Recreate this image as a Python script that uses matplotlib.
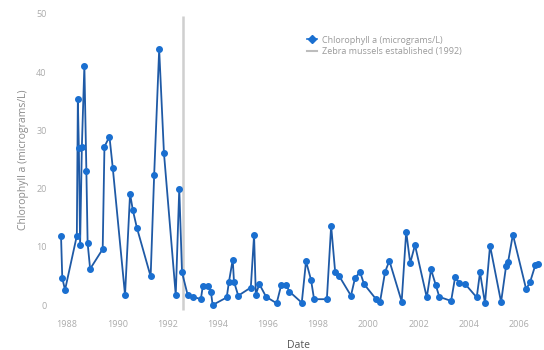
import matplotlib
matplotlib.use("Agg")
import matplotlib.pyplot as plt
from matplotlib.lines import Line2D

plt.rcParams['font.family'] = ['Open Sans', 'DejaVu Sans']

# decimal-year dates and chlorophyll a values (micrograms/L)
dates = [1987.76, 1987.81, 1987.92, 1988.39, 1988.43, 1988.47, 1988.52, 1988.59,
         1988.69, 1988.77, 1988.82, 1988.92, 1989.42, 1989.49, 1989.69, 1989.82,
         1990.31, 1990.51, 1990.62, 1990.78, 1991.33, 1991.47, 1991.67, 1991.86,
         1992.33, 1992.47, 1992.58, 1992.80, 1993.03, 1993.33, 1993.41, 1993.63,
         1993.73, 1993.80, 1994.36, 1994.45, 1994.60, 1994.65, 1994.82, 1995.32,
         1995.45, 1995.52, 1995.66, 1995.93, 1996.35, 1996.53, 1996.73, 1996.86,
         1997.35, 1997.52, 1997.72, 1997.84, 1998.35, 1998.52, 1998.68, 1998.85,
         1999.31, 1999.47, 1999.67, 1999.83, 2000.31, 2000.47, 2000.67, 2000.84,
         2001.33, 2001.51, 2001.67, 2001.86, 2002.33, 2002.50, 2002.69, 2002.83,
         2003.30, 2003.46, 2003.63, 2003.86, 2004.32, 2004.45, 2004.65, 2004.85,
         2005.29, 2005.49, 2005.57, 2005.76, 2006.29, 2006.45, 2006.65, 2006.78]
chl = [11.9, 4.6, 2.6, 11.9, 35.3, 27.0, 10.3, 27.2,
       41.1, 23.0, 10.6, 6.2, 9.6, 27.2, 28.9, 23.6,
       1.7, 19.1, 16.3, 13.3, 4.9, 22.3, 43.9, 26.1,
       1.7, 20.0, 5.6, 1.8, 1.4, 1.0, 3.3, 3.3,
       2.3, 0.0, 1.3, 4.0, 7.8, 4.0, 1.6, 3.0,
       12.0, 1.8, 3.6, 1.4, 0.3, 3.4, 3.4, 2.3,
       0.4, 7.5, 4.3, 1.0, 1.0, 13.6, 5.7, 4.9,
       1.6, 4.6, 5.7, 3.6, 1.0, 0.6, 5.7, 7.6,
       0.6, 12.6, 7.2, 10.3, 1.3, 6.1, 3.4, 1.4,
       0.7, 4.8, 3.7, 3.6, 1.3, 5.6, 0.3, 10.2,
       0.5, 6.7, 7.4, 12.1, 2.7, 4.0, 6.8, 7.0]

mussel_year = 1992.6
x_ticks = [1988, 1990, 1992, 1994, 1996, 1998, 2000, 2002, 2004, 2006]
x_tick_labels = [str(t) for t in x_ticks]
y_ticks = [0, 10, 20, 30, 40, 50]

fig = plt.figure(figsize=(5.44, 3.5), dpi=100)
ax = fig.add_axes([55/544, 38/350, 487/544, 304/350])

line_color = '#1f5aa6'
marker_color = '#1a6fd0'

ax.vlines(mussel_year, -0.8, 49.7, color='#cfcfcf', linewidth=1.8, zorder=1)
ax.plot(dates, chl, color=line_color, linewidth=1.3, marker='o', markersize=4.0,
        markerfacecolor=marker_color, markeredgecolor=marker_color, zorder=3)

ax.set_xlim(1987.52, 2006.92)
ax.set_ylim(-1.2, 51.0)
ax.set_xticks(x_ticks)
ax.set_xticklabels(x_tick_labels)
ax.set_yticks(y_ticks)
for s in ax.spines.values():
    s.set_visible(False)
ax.tick_params(axis='both', length=0, labelsize=6.5, colors='#ababab')
ax.tick_params(axis='x', pad=6)
ax.tick_params(axis='y', pad=6)

ax.set_xlabel('Date', fontsize=7.5, color='#555555', labelpad=8)
ax.set_ylabel('Chlorophyll a (micrograms/L)', fontsize=7.5, color='#8a8a8a', labelpad=5)

handles = [
    Line2D([0], [0], color=marker_color, marker='D', markersize=4, linewidth=1.2),
    Line2D([0], [0], color='#bdbdbd', linewidth=1.5),
]
labels = ['Chlorophyll a (micrograms/L)', 'Zebra mussels established (1992)']
leg = fig.legend(handles, labels, loc='upper left', bbox_to_anchor=(302/544, 1 - 31/350),
                 frameon=False, fontsize=6.5, handlelength=1.2, handletextpad=0.5,
                 labelspacing=0.25, borderpad=0)
for t in leg.get_texts():
    t.set_color('#9a9a9a')

fig.savefig('out.png', dpi=100, facecolor='white')
